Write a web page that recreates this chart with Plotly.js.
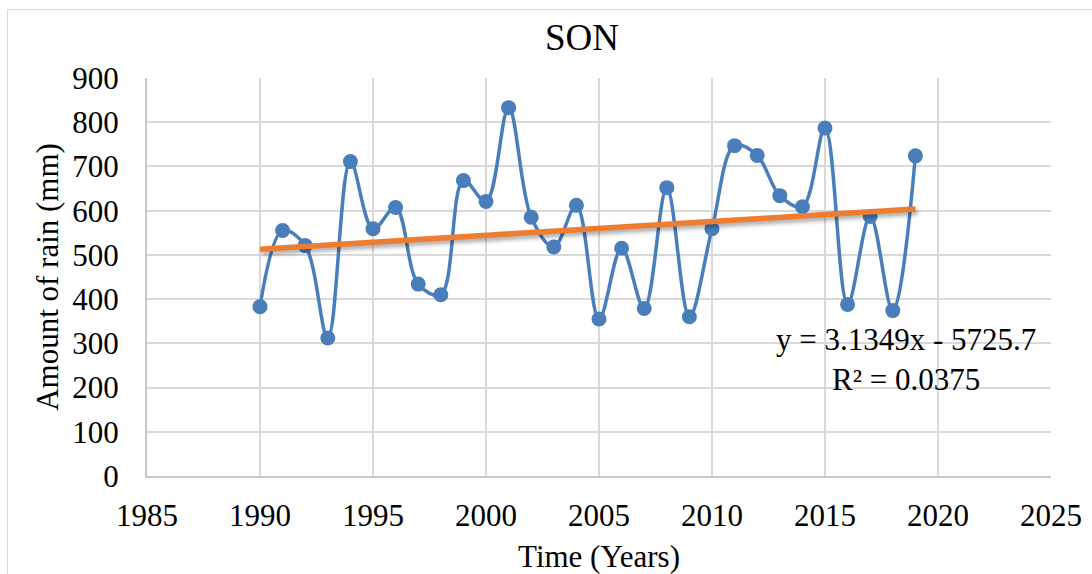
<!DOCTYPE html>
<html>
<head>
<meta charset="utf-8">
<script src="https://cdn.plot.ly/plotly-3.0.1.min.js"></script>
<style>
  html, body { margin: 0; padding: 0; background: #fff; overflow: hidden; }
  #frame { position: absolute; left: 7px; top: 9px; width: 1200px; height: 700px; border: 1px solid #d9d9d9; box-sizing: border-box; }
  #chart { position: absolute; left: 0; top: 0; width: 1092px; height: 574px; }
  #chart text { font-family: 'Liberation Serif', 'Times New Roman', serif !important; }
</style>
</head>
<body>
<div id="frame"></div>
<div id="chart"></div>
<script>
// Data
const years = [1990,1991,1992,1993,1994,1995,1996,1997,1998,1999,
               2000,2001,2002,2003,2004,2005,2006,2007,2008,2009,
               2010,2011,2012,2013,2014,2015,2016,2017,2018,2019];
const rain  = [383,555,521,312,711,559,607,434,410,668,
               621,833,585,518,612,355,515,379,652,360,
               559,747,725,634,609,787,388,587,374,724];
// Trend line coefficients as printed on the chart
const slope = 3.1349;
const intercept = -5725.7;
const rSquared = 0.0375;
const trendX = [years[0], years[years.length - 1]];
const trendY = trendX.map(x => slope * x + intercept);

const xTicks = [1985,1990,1995,2000,2005,2010,2015,2020,2025];
const yTicks = [0,100,200,300,400,500,600,700,800,900];

const FONT = "Liberation Serif, Times New Roman, serif";

const traces = [
  {
    x: years, y: rain, type: 'scatter', mode: 'lines+markers',
    line: { color: '#4A7EBB', width: 3.5, shape: 'spline', smoothing: 1 },
    marker: { color: '#4A7EBB', size: 15 },
    hoverinfo: 'x+y', showlegend: false
  },
  {
    x: trendX, y: trendY, type: 'scatter', mode: 'lines',
    line: { color: '#ED7D31', width: 5.5 },
    showlegend: false
  }
];

const layout = {
  width: 1092, height: 574,
  margin: { l: 147, r: 41, t: 78, b: 98 },
  paper_bgcolor: 'rgba(0,0,0,0)',
  plot_bgcolor: '#ffffff',
  font: { family: FONT, size: 31, color: '#000' },
  title: { text: 'SON', font: { family: FONT, size: 37, color: '#000' }, x: 0.533, xanchor: 'center', y: 0.935, yanchor: 'middle' },
  xaxis: {
    range: [1985, 2025], tickvals: xTicks, ticktext: xTicks.map(String),
    showgrid: true, gridcolor: '#d9d9d9', gridwidth: 2,
    showline: true, linecolor: '#c8c8c8', linewidth: 2, mirror: false,
    zeroline: false, ticks: 'outside', ticklen: 11, tickcolor: 'rgba(0,0,0,0)',
    tickfont: { family: FONT, size: 31, color: '#000' },
    title: { text: 'Time (Years)', font: { family: FONT, size: 31, color: '#000' }, standoff: 15 },
    automargin: false, fixedrange: true
  },
  yaxis: {
    range: [0, 900], tickvals: yTicks, ticktext: yTicks.map(String),
    showgrid: true, gridcolor: '#d9d9d9', gridwidth: 2,
    showline: true, linecolor: '#c8c8c8', linewidth: 2,
    zeroline: false, ticks: 'outside', ticklen: 20, tickcolor: 'rgba(0,0,0,0)',
    tickfont: { family: FONT, size: 31, color: '#000' },
    title: { text: 'Amount of rain (mm)', font: { family: FONT, size: 31, color: '#000' }, standoff: 4 },
    automargin: false, fixedrange: true
  },
  annotations: [
    {
      xref: 'paper', yref: 'paper', x: 0.84, y: 0.292, xanchor: 'center', yanchor: 'middle',
      text: 'y = ' + slope.toFixed(4) + 'x - ' + Math.abs(intercept).toFixed(1) + '<br>R² = ' + rSquared.toFixed(4),
      showarrow: false, align: 'center',
      font: { family: FONT, size: 31, color: '#000' }
    }
  ]
};

Plotly.newPlot('chart', traces, layout, { displayModeBar: false, staticPlot: true }).then(() => {
  const lines = document.querySelectorAll('.scatterlayer .trace');
  if (lines.length > 1) {
    const p = lines[1].querySelector('path.js-line');
    if (p) p.style.filter = 'drop-shadow(2px 3px 2px rgba(0,0,0,0.35))';
  }
});
</script>
</body>
</html>
